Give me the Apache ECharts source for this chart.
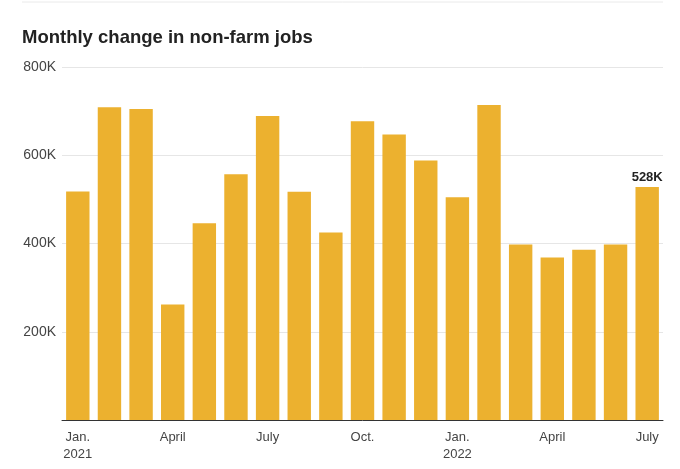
<!DOCTYPE html>
<html>
<head>
<meta charset="utf-8">
<script src="https://cdn.jsdelivr.net/npm/echarts@6/dist/echarts.min.js"></script>
<style>
  html, body { margin: 0; padding: 0; background: #fff; }
  #chart { width: 680px; height: 469px; }
</style>
</head>
<body>
<div id="chart"></div>
<script>
// months Jan 2021 .. July 2022
var months = ['Jan.\n2021','Feb.','March','April','May','June','July','Aug.','Sept.','Oct.','Nov.','Dec.',
              'Jan.\n2022','Feb.','March','April','May','June','July'];
// change in jobs, thousands
var jobs = [518, 709, 705, 262, 446, 557, 689, 517, 425, 677, 647, 588, 505, 714, 398, 368, 386, 398, 528];
var yTicks = [0, 200, 400, 600, 800];

var barColor = '#ecb12f';

var seriesData = [];
for (var i = 0; i < jobs.length; i++) {
    var item = { value: jobs[i] };
    if (i == jobs.length - 1) {
        item.label = {
            show: true,
            position: 'top',
            distance: 3,
            formatter: jobs[i] + 'K',
            fontFamily: 'Liberation Sans',
            fontWeight: 'bold',
            fontSize: 13,
            color: '#222'
        };
    }
    seriesData.push(item);
}

var myChart = echarts.init(document.getElementById('chart'));
var option = {
    animation: false,
    title: {
        text: 'Monthly change in non-farm jobs',
        left: 22,
        top: 28,
        padding: 0,
        textStyle: {
            fontFamily: 'Liberation Sans',
            fontWeight: 'bold',
            fontSize: 18.5,
            color: '#222'
        }
    },
    graphic: [{
        type: 'line',
        shape: { x1: 22, y1: 2, x2: 663, y2: 2 },
        style: { stroke: '#eaeaea', lineWidth: 1 }
    }],
    grid: { left: 62, right: 17, top: 67, bottom: 49 },
    xAxis: {
        type: 'category',
        data: months,
        axisTick: { show: false },
        axisLine: { lineStyle: { color: '#333', width: 1 } },
        axisLabel: {
            interval: 2,
            margin: 9,
            color: '#444',
            fontFamily: 'Liberation Sans',
            fontSize: 13,
            lineHeight: 17
        }
    },
    yAxis: {
        type: 'value',
        min: yTicks[0],
        max: yTicks[yTicks.length - 1],
        interval: 200,
        axisLine: { show: false },
        axisTick: { show: false },
        splitLine: { lineStyle: { color: '#e6e6e6' } },
        axisLabel: {
            margin: 6,
            color: '#444',
            fontFamily: 'Liberation Sans',
            fontSize: 14,
            formatter: function (v) { return v == 0 ? '' : v + 'K'; }
        }
    },
    series: [{
        type: 'bar',
        barWidth: '74%',
        data: seriesData,
        itemStyle: { color: barColor }
    }]
};
myChart.setOption(option);
</script>
</body>
</html>
